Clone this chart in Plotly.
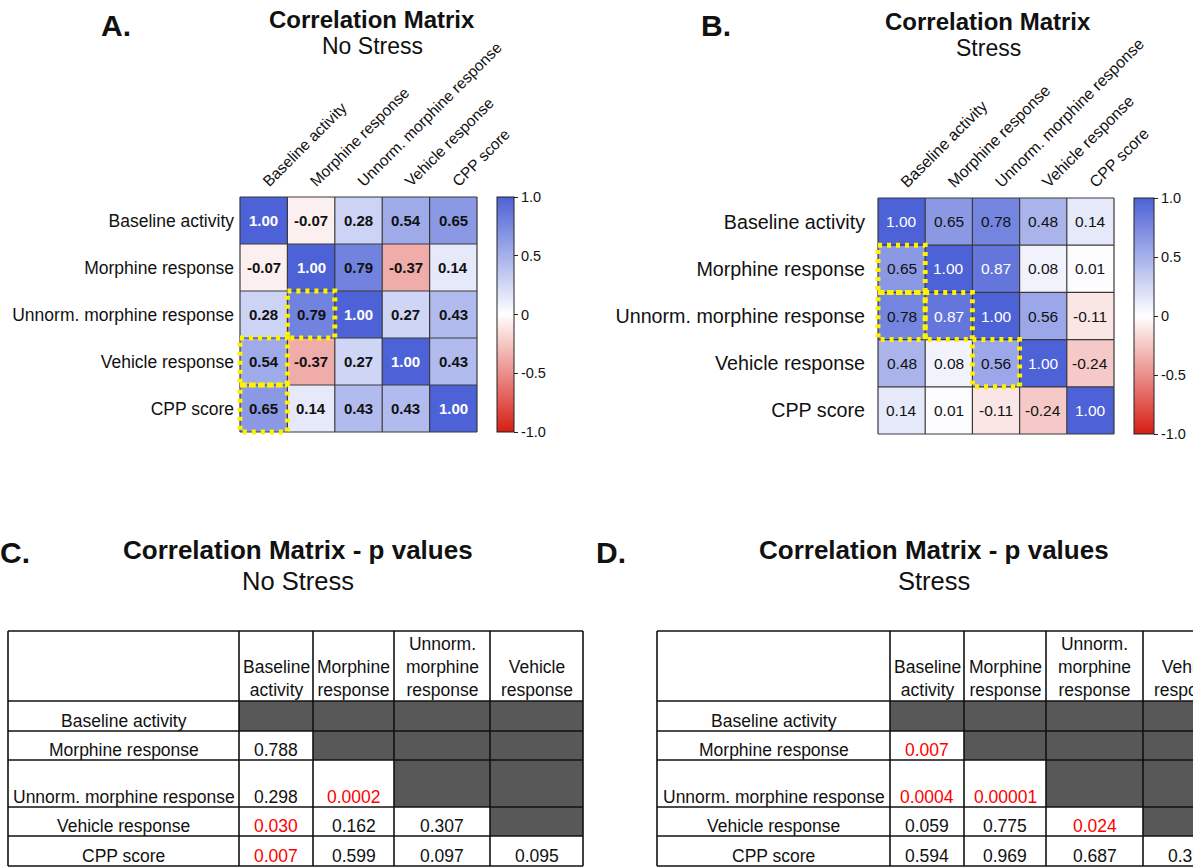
import plotly.graph_objects as go

W, H = 1193, 867
FONT = "Liberation Sans, Arial, Helvetica, sans-serif"

# ---------------------------------------------------------------- data
variables = [
    "Baseline activity",
    "Morphine response",
    "Unnorm. morphine response",
    "Vehicle response",
    "CPP score",
]

r_no_stress = [
    [1.00, -0.07, 0.28, 0.54, 0.65],
    [-0.07, 1.00, 0.79, -0.37, 0.14],
    [0.28, 0.79, 1.00, 0.27, 0.43],
    [0.54, -0.37, 0.27, 1.00, 0.43],
    [0.65, 0.14, 0.43, 0.43, 1.00],
]

r_stress = [
    [1.00, 0.65, 0.78, 0.48, 0.14],
    [0.65, 1.00, 0.87, 0.08, 0.01],
    [0.78, 0.87, 1.00, 0.56, -0.11],
    [0.48, 0.08, 0.56, 1.00, -0.24],
    [0.14, 0.01, -0.11, -0.24, 1.00],
]

# lower-triangle p values (row variable vs. column variable), as reported
p_no_stress = [
    [],
    ["0.788"],
    ["0.298", "0.0002"],
    ["0.030", "0.162", "0.307"],
    ["0.007", "0.599", "0.097", "0.095"],
]

p_stress = [
    [],
    ["0.007"],
    ["0.0004", "0.00001"],
    ["0.059", "0.775", "0.024"],
    ["0.594", "0.969", "0.687", "0.371"],
]

table_headers = [
    "Baseline<br>activity",
    "Morphine<br>response",
    "Unnorm.<br>morphine<br>response",
    "Vehicle<br>response",
]

colorbar_ticks = [1.0, 0.5, 0.0, -0.5, -1.0]
colorbar_ticktext = ["1.0", "0.5", "0", "-0.5", "-1.0"]

ALPHA = 0.05

# ---------------------------------------------------------------- style
RWB = [[0.0, "rgb(214,30,20)"], [0.5, "rgb(255,255,255)"], [1.0, "rgb(77,98,214)"]]
GRID = "#3a3a3a"
YELLOW = "#FFF200"
SIG_RED = "#FF0000"
GREY_FILL = "#585858"


def fx(px):
    return px / W


def fy(py):
    return 1 - py / H


fig = go.Figure()
annotations = []
shapes = []


def corr_panel(r, p, axn, left, right, top, bottom, cbar_left, cbar_w,
               cell_size, row_size, col_size, bold, standoff):
    xr = "x" if axn == 1 else f"x{axn}"
    yr = "y" if axn == 1 else f"y{axn}"
    n = len(variables)
    cell = (right - left) / n
    pad = 3.0 / cell

    fig.add_trace(go.Heatmap(
        z=r, x=variables, y=variables, zmin=-1, zmax=1, colorscale=RWB,
        xaxis=xr, yaxis=yr, hoverinfo="skip",
        colorbar=dict(
            x=fx(cbar_left), xanchor="left", xpad=0,
            y=fy(top), yanchor="top", ypad=0,
            len=bottom - top, lenmode="pixels",
            thickness=cbar_w, thicknessmode="pixels",
            outlinewidth=1, outlinecolor="#222",
            tickvals=colorbar_ticks, ticktext=colorbar_ticktext,
            ticks="outside", ticklen=4, tickcolor="#222",
            tickfont=dict(size=14.5, color="#111", family=FONT),
        ),
    ))

    common = dict(showgrid=False, zeroline=False, showline=False, ticks="",
                  fixedrange=True)
    fig.update_layout({
        ("xaxis" if axn == 1 else f"xaxis{axn}"): dict(
            domain=[fx(left - 3), fx(right + 3)], range=[-0.5 - pad, n - 0.5 + pad],
            side="top", tickangle=-45, anchor=yr,
            tickfont=dict(size=col_size, color="#111", family=FONT), **common),
        ("yaxis" if axn == 1 else f"yaxis{axn}"): dict(
            domain=[fy(bottom + 3), fy(top - 3)], range=[n - 0.5 + pad, -0.5 - pad],
            anchor=xr, ticklabelstandoff=standoff,
            tickfont=dict(size=row_size, color="#111", family=FONT), **common),
    })

    # cell grid
    for k in range(n + 1):
        shapes.append(dict(type="line", xref=xr, yref=yr, x0=k - 0.5, x1=k - 0.5,
                           y0=-0.5, y1=n - 0.5, line=dict(color=GRID, width=1.2)))
        shapes.append(dict(type="line", xref=xr, yref=yr, y0=k - 0.5, y1=k - 0.5,
                           x0=-0.5, x1=n - 0.5, line=dict(color=GRID, width=1.2)))

    # significant pairs outlined
    for i in range(n):
        for j in range(i):
            if float(p[i][j]) < ALPHA:
                shapes.append(dict(type="rect", xref=xr, yref=yr,
                                   x0=j - 0.5, x1=j + 0.5, y0=i - 0.5, y1=i + 0.5,
                                   line=dict(color=YELLOW, width=5, dash="4px,5px")))

    # coefficients
    for i in range(n):
        for j in range(n):
            v = r[i][j]
            txt = f"{v:.2f}"
            if bold:
                txt = f"<b>{txt}</b>"
            annotations.append(dict(
                x=variables[j], y=variables[i], xref=xr, yref=yr, text=txt,
                showarrow=False,
                font=dict(size=cell_size, family=FONT,
                          color="white" if v >= 0.85 else "#111"),
            ))


def p_table(p, axn, left, top, col_w, row_h):
    xr, yr = f"x{axn}", f"y{axn}"
    xs = [left]
    for w in col_w:
        xs.append(xs[-1] + w)
    ys = [top]
    for h in row_h:
        ys.append(ys[-1] + h)
    n_rows, n_cols = len(variables), len(table_headers)

    # shaded upper triangle
    for i in range(n_rows):
        for j in range(n_cols):
            if j >= i:
                shapes.append(dict(type="rect", xref=xr, yref=yr,
                                   x0=xs[j + 1], x1=xs[j + 2], y0=ys[i + 1], y1=ys[i + 2],
                                   fillcolor=GREY_FILL, line=dict(width=0), layer="below"))
    # borders
    for x in xs:
        shapes.append(dict(type="line", xref=xr, yref=yr, x0=x, x1=x, y0=ys[0], y1=ys[-1],
                           line=dict(color="#111", width=1.6)))
    for y in ys:
        shapes.append(dict(type="line", xref=xr, yref=yr, x0=xs[0], x1=xs[-1], y0=y, y1=y,
                           line=dict(color="#111", width=1.6)))

    tfont = dict(size=17.5, family=FONT, color="#111")
    # header row
    for j, h in enumerate(table_headers):
        annotations.append(dict(x=(xs[j + 1] + xs[j + 2]) / 2, y=ys[1], xref=xr, yref=yr,
                                text=h, showarrow=False, yanchor="bottom", yshift=-1,
                                font=tfont))
    # body rows
    for i, name in enumerate(variables):
        annotations.append(dict(x=(xs[0] + xs[1]) / 2, y=ys[i + 2], xref=xr, yref=yr,
                                text=name, showarrow=False, yanchor="bottom", yshift=-2,
                                font=tfont))
        for j, val in enumerate(p[i]):
            col = SIG_RED if float(val) < ALPHA else "#111"
            annotations.append(dict(x=(xs[j + 1] + xs[j + 2]) / 2, y=ys[i + 2],
                                    xref=xr, yref=yr, text=val, showarrow=False,
                                    yanchor="bottom", yshift=-2,
                                    font=dict(size=17.5, family=FONT, color=col)))


# ---------------------------------------------------------------- panels A, B
corr_panel(r_no_stress, p_no_stress, 1, left=240, right=477, top=197, bottom=432,
           cbar_left=497, cbar_w=17, cell_size=15, row_size=17.5, col_size=15.5,
           bold=True, standoff=2)
corr_panel(r_stress, p_stress, 2, left=878, right=1114, top=198, bottom=434,
           cbar_left=1134, cbar_w=20, cell_size=15.5, row_size=19.7, col_size=16,
           bold=False, standoff=9)

# ---------------------------------------------------------------- panels C, D (page-pixel axes)
hidden = dict(visible=False, fixedrange=True)
fig.update_layout(
    xaxis3=dict(domain=[0, 0.5], range=[0, W / 2], anchor="y3", **hidden),
    yaxis3=dict(domain=[0, 0.3], range=[H, H * 0.7], anchor="x3", **hidden),
    xaxis4=dict(domain=[0.5, 1], range=[W / 2, W], anchor="y4", **hidden),
    yaxis4=dict(domain=[0, 0.3], range=[H, H * 0.7], anchor="x4", **hidden),
)
row_heights = [70, 30, 29, 47, 29, 30]
p_table(p_no_stress, 3, left=8, top=631, col_w=[231, 74, 81, 96, 93], row_h=row_heights)
p_table(p_stress, 4, left=657, top=631, col_w=[233, 74, 82, 97, 93], row_h=row_heights)
# anchor traces so the table axes are drawn
for axn in (3, 4):
    fig.add_trace(go.Scatter(x=[None], y=[None], xaxis=f"x{axn}", yaxis=f"y{axn}",
                             showlegend=False, hoverinfo="skip"))

# ---------------------------------------------------------------- titles and panel letters
def label(text, x, y, size, bold=False):
    annotations.append(dict(
        x=fx(x), y=fy(y), xref="paper", yref="paper", showarrow=False,
        xanchor="center", yanchor="middle",
        text=f"<b>{text}</b>" if bold else text,
        font=dict(size=size, family=FONT, color="#111"),
    ))


label("A.", 116, 26, 30, bold=True)
label("B.", 716, 26, 30, bold=True)
label("C.", 15, 552, 30, bold=True)
label("D.", 611, 552, 30, bold=True)

label("Correlation Matrix", 372, 19, 24, bold=True)
label("No Stress", 372, 46, 23)
label("Correlation Matrix", 988, 21, 24, bold=True)
label("Stress", 988, 48, 23)
label("Correlation Matrix - p values", 298, 550, 26, bold=True)
label("No Stress", 298, 581, 25.5)
label("Correlation Matrix - p values", 934, 550, 26, bold=True)
label("Stress", 934, 581, 25.5)

fig.update_layout(
    width=W, height=H,
    margin=dict(l=0, r=0, t=0, b=0, autoexpand=False),
    paper_bgcolor="white", plot_bgcolor="white",
    showlegend=False,
    font=dict(family=FONT, color="#111"),
    annotations=annotations,
    shapes=shapes,
)

fig.write_html("out.html")
